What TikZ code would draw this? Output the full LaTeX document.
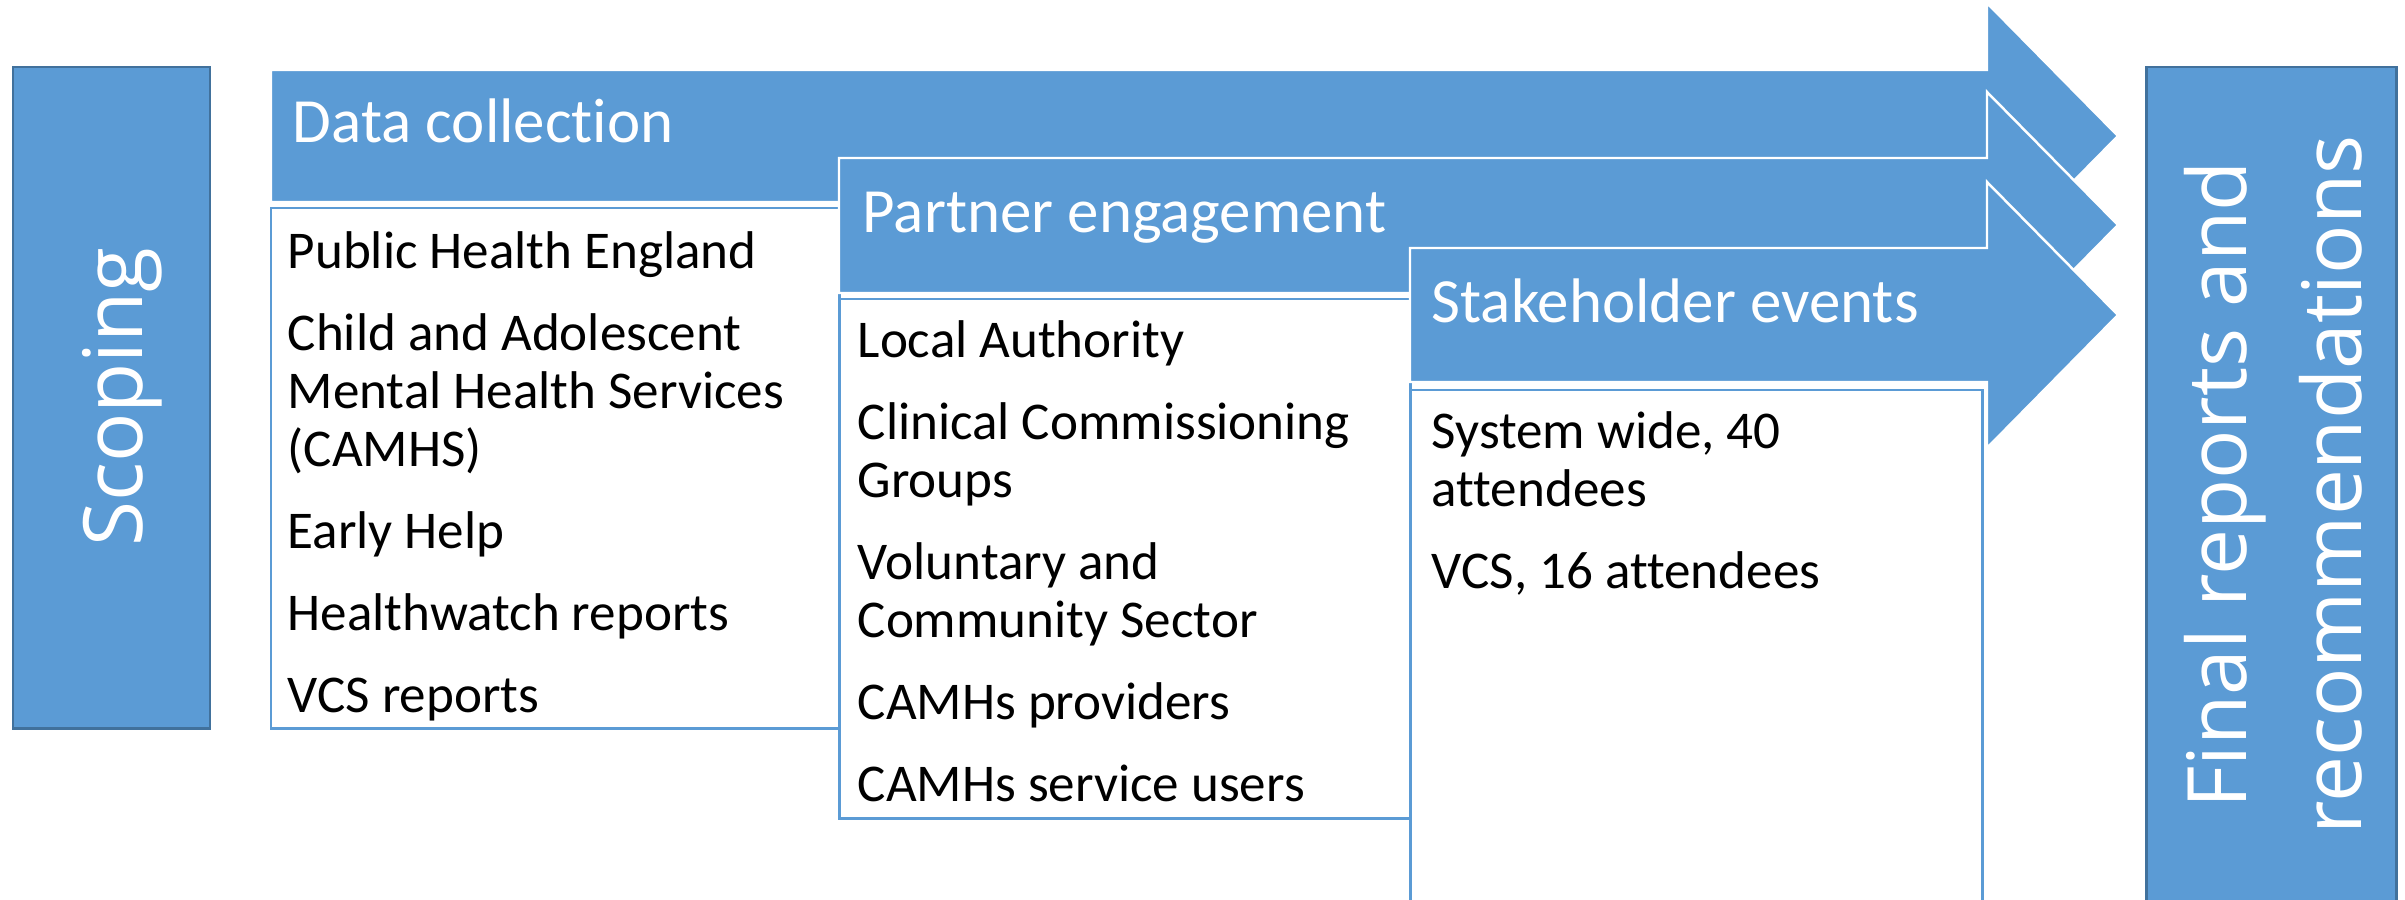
\documentclass[tikz,border=0pt]{standalone}
\usepackage{fontspec}
\setmainfont{Carlito}[Ligatures=NoCommon]
\newfontfamily\sidefont{Open Sans}
\usepackage{xcolor}
\definecolor{phaseblue}{RGB}{91,155,213}
\definecolor{edgeblue}{RGB}{65,113,156}
\usepackage{tikz}
\usetikzlibrary{positioning}

\tikzset{
  phase/.style={fill=phaseblue, draw=white, line width=0.7pt, line join=miter},
  listbox/.style={draw=phaseblue, line width=0.85pt, fill=white},
  sidebox/.style={fill=phaseblue, draw=edgeblue, line width=0.85pt},
  headtext/.style={text=white, inner sep=0pt, anchor=base west,
    font=\fontsize{17.9}{20}\selectfont},
  % lists are placed by the baseline of their last line
  itemtext/.style={align=left, inner sep=0pt, anchor=base west,
    font=\fontsize{15.1}{16.5}\selectfont},
  sidetext/.style={text=white, rotate=90, align=center, inner sep=0pt,
    font=\sidefont\fontsize{23.3}{32.7}\selectfont}
}

\begin{document}
\begin{tikzpicture}[x=0.01cm, y=-0.01cm]
  \useasboundingbox (0,0) rectangle (2405,900);
  \clip (0,0) rectangle (2405,900);

  % side boxes
  \draw[sidebox] (13,67) rectangle (210,728);
  \draw[sidebox] (2146,67) rectangle (2396,910);

  % data collection
  \draw[phase] (271,70) -- (1987,70) -- (1987,3) -- (2118,136) -- (1987,269)
    -- (1987,202) -- (271,202) -- cycle;
  \draw[listbox] (271,208) rectangle (839,728);

  % partner engagement
  \draw[phase] (839,158) -- (1987,158) -- (1987,92) -- (2118,225) -- (1987,358)
    -- (1987,293) -- (839,293) -- cycle;
  \draw[listbox] (839,299) rectangle (1410,818);

  % stakeholder events
  \draw[phase] (1410,248) -- (1987,248) -- (1987,182) -- (2118,315) -- (1987,448)
    -- (1987,382) -- (1410,382) -- cycle;
  \draw[listbox] (1410,390) rectangle (1982,910);

  % labels
  \node[sidetext, anchor=base] (scoping) at (143,397) {Scoping};
  \node[sidetext] (final) at (2273,485) {Final reports and\\recommendations};

  \node[headtext] (datahead) at (292,143) {Data collection};
  \node[headtext] (partnerhead) at (862,232) {Partner engagement};
  \node[headtext] (eventhead) at (1431,322) {Stakeholder events};

  \node[itemtext] (datalist) at (287,712) {Public Health England\\[6.8pt]
    Child and Adolescent\\ Mental Health Services\\ (CAMHS)\\[6.8pt]
    Early Help\\[6.8pt] Healthwatch reports\\[6.8pt] VCS reports};
  \node[itemtext] (partnerlist) at (857,801) {Local Authority\\[6.8pt]
    Clinical Commissioning\\ Groups\\[6.8pt] Voluntary and\\ Community Sector\\[6.8pt]
    CAMHs providers\\[6.8pt] CAMHs service users};
  \node[itemtext] (eventlist) at (1431,588) {System wide, 40\\ attendees\\[6.8pt]
    VCS, 16 attendees};
\end{tikzpicture}
\end{document}
